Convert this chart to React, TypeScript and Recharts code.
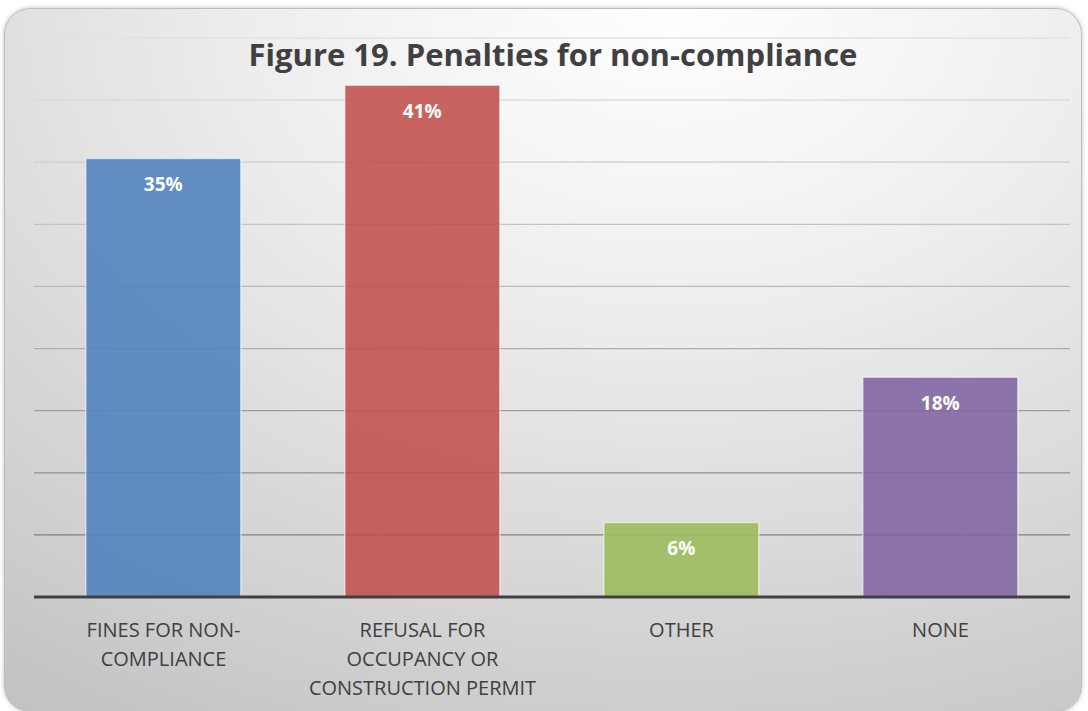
import { Bar, BarChart, CartesianGrid, Cell, LabelList, XAxis, YAxis } from 'recharts'

// categories (axis labels, wrapped as in the original)
const categories = [
  'FINES FOR NON-\nCOMPLIANCE',
  'REFUSAL FOR\nOCCUPANCY OR\nCONSTRUCTION PERMIT',
  'OTHER',
  'NONE',
]
const shares = [35.3, 41.2, 6.0, 17.7]
const barColors = ['#4f81bd', '#c0504d', '#9bbb59', '#8064a2']
const yTicks = [0, 5, 10, 15, 20, 25, 30, 35, 40, 45]

const data = categories.map((name, i) => ({ name, value: shares[i] }))

const CategoryTick = (props: any) => {
  const { x, y, payload } = props
  const lines = String(payload.value).split('\n')
  return (
    <text
      x={x}
      y={y}
      textAnchor='middle'
      fill='#404040'
      fontFamily='"Open Sans", sans-serif'
      fontSize={20}
    >
      {lines.map((line, i) => (
        <tspan key={i} x={x} dy={i === 0 ? 32 : 29}>
          {line}
        </tspan>
      ))}
    </text>
  )
}

export default function App() {
  return (
    <div style={{ position: 'absolute', left: 0, top: 0, width: 1088, height: 711, overflow: 'hidden' }}>
      <div
        style={{
          position: 'absolute',
          left: 4,
          top: 8,
          width: 1076,
          height: 702,
          borderRadius: 26,
          border: '1px solid #bdbdbd',
          boxShadow: '0 0 4px rgba(0,0,0,0.25)',
          background: 'radial-gradient(ellipse 110% 120% at 62% 0%, #ffffff 0%, #eeeeee 35%, #d6d6d6 70%, #c2c2c2 100%)',
        }}
      />
      <div
        style={{
          position: 'absolute',
          left: 18,
          top: 33,
          width: 1070,
          textAlign: 'center',
          fontFamily: '"Open Sans", sans-serif',
          fontWeight: 700,
          fontSize: 31,
          color: '#404040',
          letterSpacing: 0,
        }}
      >
        Figure 19. Penalties for non-compliance
      </div>
      <div style={{ position: 'absolute', left: 0, top: 0 }}>
        <BarChart
          width={1088}
          height={711}
          data={data}
          margin={{ top: 38, right: 18, left: 34, bottom: 0 }}
          barCategoryGap='20%'
        >
          <defs>
            <linearGradient id='gridGrad' x1='0' y1='0' x2='0' y2='711' gradientUnits='userSpaceOnUse'>
              <stop offset='5%' stopColor='#e2e2e2' />
              <stop offset='45%' stopColor='#b4b4b4' />
              <stop offset='76%' stopColor='#808080' />
            </linearGradient>
          </defs>
          <CartesianGrid vertical={false} stroke='url(#gridGrad)' strokeWidth={1.3} />
          <YAxis hide domain={[0, 45]} ticks={yTicks} />
          <XAxis
            dataKey='name'
            height={114}
            interval={0}
            tickLine={false}
            axisLine={{ stroke: '#404040', strokeWidth: 3 }}
            tick={<CategoryTick />}
          />
          <Bar dataKey='value' isAnimationActive={false} fillOpacity={0.88} stroke='#ffffff' strokeOpacity={0.55} strokeWidth={1.5}>
            {data.map((_, i) => (
              <Cell key={i} fill={barColors[i]} />
            ))}
            <LabelList
              dataKey='value'
              position='insideTop'
              offset={19}
              formatter={(v: any) => `${Math.round(Number(v))}%`}
              fill='#ffffff'
              fontFamily='"Open Sans", sans-serif'
              fontWeight={700}
              fontSize={19}
            />
          </Bar>
        </BarChart>
      </div>
    </div>
  )
}
